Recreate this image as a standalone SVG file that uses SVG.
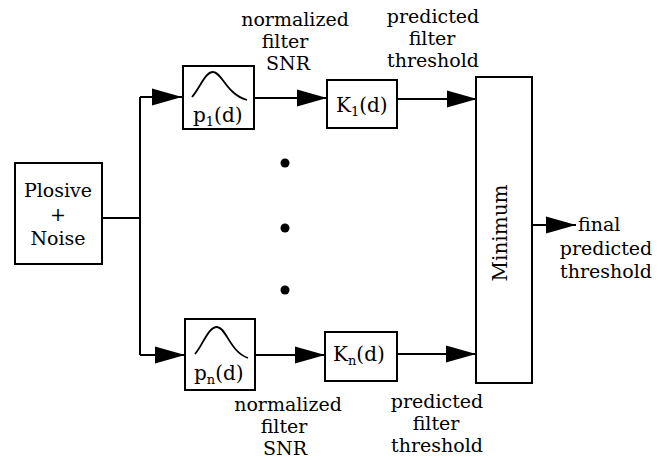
<svg xmlns="http://www.w3.org/2000/svg" width="658" height="460" viewBox="0 0 658 460">
<style>
.box{fill:#fff;stroke:#000;stroke-width:2}
.ln{fill:none;stroke:#000;stroke-width:2}
.cv{fill:none;stroke:#000;stroke-width:1.8}
text{font-family:"DejaVu Serif","Liberation Serif",serif;font-size:19px;fill:#000}
.c{text-anchor:middle}
.sub{font-size:13px}
.blk{font-size:20px}
</style>
<defs>
<marker id="arr" markerUnits="userSpaceOnUse" markerWidth="31" markerHeight="17" refX="30" refY="8.5" orient="auto" overflow="visible">
<path d="M0,0 L30,8.5 L0,17 Z" fill="#000"/>
</marker>
</defs>
<rect width="658" height="460" fill="#fff"/>

<g id="connectors">
<polyline class="ln" points="102,218 140,218"/>
<polyline class="ln" points="140,97 140,355"/>
<line class="ln" x1="140" y1="97" x2="182" y2="97" marker-end="url(#arr)"/>
<line class="ln" x1="140" y1="355" x2="185" y2="355" marker-end="url(#arr)"/>
<line class="ln" x1="254" y1="98" x2="327" y2="98" marker-end="url(#arr)"/>
<line class="ln" x1="255" y1="355" x2="325" y2="355" marker-end="url(#arr)"/>
<line class="ln" x1="397" y1="99" x2="477" y2="99" marker-end="url(#arr)"/>
<line class="ln" x1="397" y1="354" x2="476" y2="354" marker-end="url(#arr)"/>
<line class="ln" x1="532" y1="225" x2="576" y2="225" marker-end="url(#arr)"/>
</g>

<g id="source">
<rect class="box" x="15" y="163" width="87" height="101"/>
<text class="c" x="58" y="197">Plosive</text>
<text class="c" x="58" y="221">+</text>
<text class="c" x="58" y="245">Noise</text>
</g>

<g id="filter1">
<rect class="box" x="183" y="66" width="71" height="63"/>
<path class="cv" d="M192,97 C200,88 205,72 213,72 C222,72 226,94 247,100"/>
<text x="193" y="122" class="blk">p<tspan class="sub" dy="4">1</tspan><tspan dy="-4">(d)</tspan></text>
</g>

<g id="filtern">
<rect class="box" x="185" y="319" width="70" height="71"/>
<path class="cv" d="M195,354 C203,345 208,327 217,327 C226,327 230,352 248,358"/>
<text x="194" y="380" class="blk">p<tspan class="sub" dy="4">n</tspan><tspan dy="-4">(d)</tspan></text>
</g>

<g id="k1">
<rect class="box" x="327" y="80" width="70" height="48"/>
<text x="336" y="112" class="blk">K<tspan class="sub" dy="4">1</tspan><tspan dy="-4">(d)</tspan></text>
</g>

<g id="kn">
<rect class="box" x="325" y="332" width="72" height="49"/>
<text x="333" y="361" class="blk">K<tspan class="sub" dy="4">n</tspan><tspan dy="-4">(d)</tspan></text>
</g>

<g id="minimum">
<rect class="box" x="476" y="77" width="56" height="306"/>
<text class="c blk" transform="translate(507,233) rotate(-90)">Minimum</text>
</g>

<g id="dots">
<circle cx="285" cy="163" r="4.5"/>
<circle cx="285" cy="228" r="4.5"/>
<circle cx="285" cy="290" r="4.5"/>
</g>

<g id="labels">
<text class="c" x="295" y="26">normalized</text>
<text class="c" x="285" y="48">filter</text>
<text class="c" x="288" y="70">SNR</text>
<text class="c" x="433" y="23">predicted</text>
<text class="c" x="432" y="45">filter</text>
<text class="c" x="433" y="67">threshold</text>
<text class="c" x="288" y="411">normalized</text>
<text class="c" x="284" y="433">filter</text>
<text class="c" x="285" y="455">SNR</text>
<text class="c" x="437" y="408">predicted</text>
<text class="c" x="436" y="430">filter</text>
<text class="c" x="437" y="452">threshold</text>
<text x="578" y="231">final</text>
<text class="c" x="606" y="255">predicted</text>
<text class="c" x="606" y="278">threshold</text>
</g>
</svg>
